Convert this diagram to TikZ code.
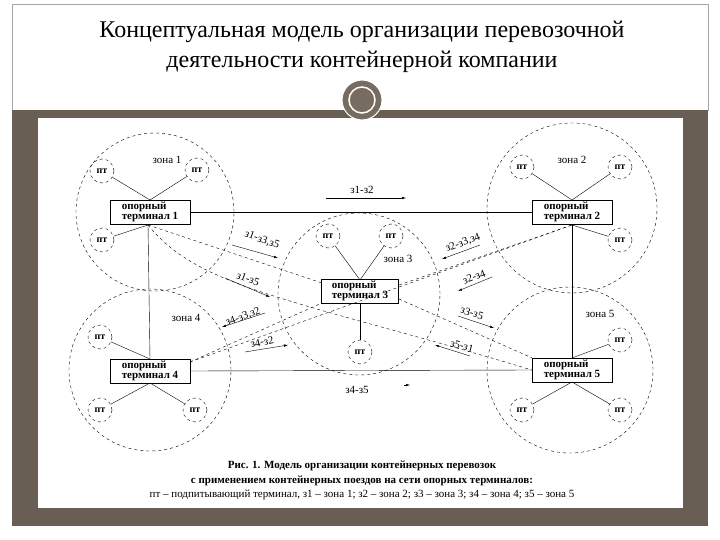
\documentclass[tikz,border=0pt]{standalone}
\usepackage{fontspec}
\usetikzlibrary{arrows.meta}
\setmainfont{Liberation Serif}
\definecolor{band}{RGB}{104,94,84}
\definecolor{ornf}{RGB}{120,108,96}
\begin{document}
\begin{tikzpicture}[x=1pt,y=-1pt,
  zone/.style={draw,dashed,circle,minimum size=#1*2pt,inner sep=0pt},
  pt/.style={draw,dashed,circle,minimum size=24pt,inner sep=0pt,font=\fontsize{10}{10}\selectfont\bfseries},
  term/.style={draw,thin,minimum width=80pt,minimum height=24pt,inner sep=1pt,align=left,font=\fontsize{11}{10.5}\selectfont\bfseries},
  lbl/.style={font=\fontsize{11}{12}\selectfont},
  dl/.style={dashed,thin},
  sl/.style={thin},
  ar/.style={-{Latex[length=4pt,width=2.5pt]},thin}]
\useasboundingbox (0,0) rectangle (720,540);
\fill[white] (0,0) rectangle (720,540);
\draw[gray!70] (12,4) rectangle (708,110);
\fill[band] (12,110) rectangle (708,526);
\fill[white] (38,118) rectangle (683,508);
\node[font=\fontsize{24}{28}\selectfont] (t1) at (362,32) {Концептуальная модель организации перевозочной};
\node[font=\fontsize{24}{28}\selectfont] (t2) at (362,62) {деятельности контейнерной компании};
\node[circle,fill=ornf,minimum size=40pt,draw=white,line width=1pt] (orn) at (362,100) {};
\node[circle,draw=white,line width=1.5pt,minimum size=26pt] (orn2) at (362,100) {};
% zones
\node[zone=79] (z1) at (155,212) {};
\node[zone=85] (z2) at (572,208) {};
\node[zone=81] (z3) at (359,294) {};
\node[zone=81] (z4) at (150,370) {};
\node[zone=83] (z5) at (570,370) {};
% terminals
\node[term] (T1) at (150,212) {опорный\\терминал 1};
\node[term] (T2) at (572,212) {опорный\\терминал 2};
\node[term,minimum width=77pt] (T3) at (360,291) {опорный\\терминал 3};
\node[term] (T4) at (150,371) {опорный\\терминал 4};
\node[term] (T5) at (572,370) {опорный\\терминал 5};
% pt
\node[pt] (p11) at (102,171) {пт};
\node[pt] (p12) at (197,170) {пт};
\node[pt] (p13) at (102,240) {пт};
\node[pt] (p21) at (522,167) {пт};
\node[pt] (p22) at (620,167) {пт};
\node[pt] (p23) at (620,240) {пт};
\node[pt] (p31) at (328,236) {пт};
\node[pt] (p32) at (391,236) {пт};
\node[pt] (p33) at (360,352) {пт};
\node[pt] (p41) at (100,337) {пт};
\node[pt] (p42) at (100,410) {пт};
\node[pt] (p43) at (195,410) {пт};
\node[pt] (p51) at (620,340) {пт};
\node[pt] (p52) at (522,410) {пт};
\node[pt] (p53) at (620,410) {пт};
% zone labels
\node[lbl] (zl1) at (167,160) {зона 1};
\node[lbl] (zl2) at (572,160) {зона 2};
\node[lbl] (zl3) at (398,259) {зона 3};
\node[lbl] (zl4) at (186,318) {зона 4};
\node[lbl] (zl5) at (600,314) {зона 5};
% terminal to pt
\coordinate (c1t) at (150,200); \coordinate (c1b) at (148,225);
\coordinate (c2t) at (572,200); \coordinate (c2b) at (572,225);
\coordinate (c3t) at (360,280); \coordinate (c3b) at (360,303);
\coordinate (c4t) at (150,359); \coordinate (c4b) at (150,383);
\coordinate (c5t) at (572,358); \coordinate (c5b) at (572,382);
\draw[sl] (c1t) -- (p11); \draw[sl] (c1t) -- (p12); \draw[sl] (c1b) -- (p13);
\draw[sl] (c2t) -- (p21); \draw[sl] (c2t) -- (p22); \draw[sl] (c2b) -- (p23);
\draw[sl] (c3t) -- (p31); \draw[sl] (c3t) -- (p32); \draw[sl] (c3b) -- (p33);
\draw[sl] (c4t) -- (p41); \draw[sl] (c4b) -- (p42); \draw[sl] (c4b) -- (p43);
\draw[sl] (c5t) -- (p51); \draw[sl] (c5b) -- (p52); \draw[sl] (c5b) -- (p53);
% main solid links
\draw[sl] (T1.east) -- (T2.west);
\draw[sl] (T4.east) -- (T5.west);
\draw[sl] (c1b) -- (c4t);
\draw[sl] (c2b) -- (c5t);
% dashed routes
\coordinate (c3l) at (322,283); \coordinate (c3r) at (399,285);
\coordinate (c3rb) at (399,299); \coordinate (c4r) at (190,362);
\draw[dl] (c1b) -- (c3l);
\draw[dl] (c1b) .. controls (200,290) and (300,300) .. (T5.west);
\draw[dl] (c4r) -- (T3.south west);
\draw[dl] (c4r) -- (c2b);
\draw[dl] (c2b) -- (c3r);
\draw[dl] (c3rb) -- (T5.north west);
% route labels with arrows
\node[lbl] (r12) at (362,190) {з1-з2};
\coordinate (a12s) at (326,198); \coordinate (a12e) at (406,198);
\draw[ar] (a12s) -- (a12e);
\node[lbl,rotate=-20] (r135) at (262,240) {з1-з3,з5};
\coordinate (a1s) at (232,245); \coordinate (a1e) at (278,258);
\draw[ar] (a1s) -- (a1e);
\node[lbl,rotate=-20] (r15) at (248,279) {з1-з5};
\coordinate (a2s) at (225,278); \coordinate (a2e) at (270,297);
\draw[ar] (a2s) -- (a2e);
\node[lbl,rotate=20] (r432) at (243,317) {з4-з3,з2};
\coordinate (a3s) at (265,313); \coordinate (a3e) at (222,327);
\draw[ar] (a3s) -- (a3e);
\node[lbl,rotate=12] (r42) at (262,342) {з4-з2};
\coordinate (a4s) at (245,352); \coordinate (a4e) at (288,345);
\draw[ar] (a4s) -- (a4e);
\node[lbl,rotate=20] (r234) at (463,243) {з2-з3,з4};
\coordinate (a5s) at (480,245); \coordinate (a5e) at (442,259);
\draw[ar] (a5s) -- (a5e);
\node[lbl,rotate=20] (r24) at (474,277) {з2-з4};
\coordinate (a6s) at (492,277); \coordinate (a6e) at (458,291);
\draw[ar] (a6s) -- (a6e);
\node[lbl,rotate=-18] (r35) at (472,313) {з3-з5};
\coordinate (a7s) at (458,316); \coordinate (a7e) at (494,328);
\draw[ar] (a7s) -- (a7e);
\node[lbl,rotate=-15] (r51) at (462,346) {з5-з1};
\coordinate (a8s) at (470,356); \coordinate (a8e) at (435,345);
\draw[ar] (a8s) -- (a8e);
\node[lbl] (r45) at (357,390) {з4-з5};
\coordinate (a9s) at (404,385); \coordinate (a9e) at (410,385);
\draw[ar] (a9s) -- (a9e);
% caption
\node[font=\fontsize{11}{12}\selectfont\bfseries] (cap1) at (362,466) {Рис. 1. Модель организации контейнерных перевозок};
\node[font=\fontsize{11}{12}\selectfont\bfseries] (cap2) at (362,481) {с применением контейнерных поездов на сети опорных терминалов:};
\node[font=\fontsize{11}{12}\selectfont] (cap3) at (362,495) {пт – подпитывающий терминал, з1 – зона 1; з2 – зона 2; з3 – зона 3; з4 – зона 4; з5 – зона 5};
\end{tikzpicture}
\end{document}
